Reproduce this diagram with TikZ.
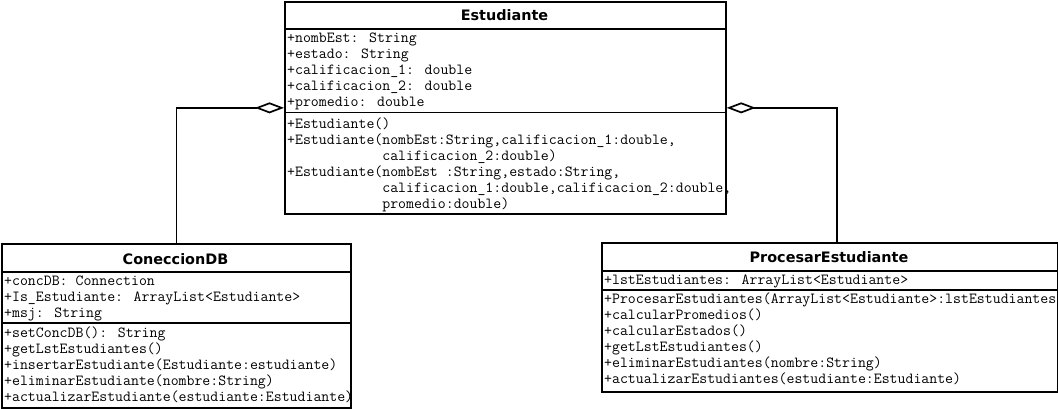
\documentclass[tikz,border=0pt]{standalone}
\usepackage{fontspec}
\newfontfamily\titlefont{DejaVu Sans}
\usetikzlibrary{arrows.meta}
\begin{document}
\begin{tikzpicture}[x=1bp,y=-1bp,
  box/.style={draw, line width=1.7bp, inner sep=0pt, anchor=north west},
  sep/.style={line width=1.7bp},
  title/.style={font=\titlefont\bfseries\fontsize{14.4bp}{16bp}\selectfont, inner sep=0pt},
  txt/.style={font=\ttfamily\fontsize{15.4bp}{16bp}\selectfont, inner sep=0pt, anchor=base west},
  aggr/.style={line width=1.7bp, -{Diamond[open,fill=white,length=29bp,width=11bp]}}
]
\useasboundingbox (0,0) rectangle (1058,408);

% class boxes
\node[box, minimum width=441bp, minimum height=212bp] (est) at (284,1) {};
\node[box, minimum width=349bp, minimum height=164bp] (con) at (1,243) {};
\node[box, minimum width=456bp, minimum height=149bp] (proc) at (601,242) {};

% separators
\draw[sep] (est.west |- 0,29) -- (est.east |- 0,29);
\draw[sep] (est.west |- 0,112.5) -- (est.east |- 0,112.5);
\draw[sep] (con.west |- 0,272) -- (con.east |- 0,272);
\draw[sep] (con.west |- 0,323) -- (con.east |- 0,323);
\draw[sep] (proc.west |- 0,271) -- (proc.east |- 0,271);
\draw[sep] (proc.west |- 0,290) -- (proc.east |- 0,290);

% titles
\node[title] (est-t) at (504.5,15.5) {Estudiante};
\node[title] (con-t) at (175.5,259) {ConeccionDB};
\node[title] (proc-t) at (829,257) {ProcesarEstudiante};

% Estudiante
\node[txt] (e1) at (287,42) {+nombEst: String};
\node[txt] (e2) at (287,58) {+estado: String};
\node[txt] (e3) at (287,74) {+calificacion\_1: double};
\node[txt] (e4) at (287,90) {+calificacion\_2: double};
\node[txt] (e5) at (287,106) {+promedio: double};
\node[txt] (e6) at (287,128) {+Estudiante()};
\node[txt] (e7) at (287,144) {+Estudiante(nombEst:String,calificacion\_1:double,};
\node[txt] (e8) at (287,160) {\phantom{+Estudiante(}calificacion\_2:double)};
\node[txt] (e9) at (287,176) {+Estudiante(nombEst :String,estado:String,};
\node[txt] (e10) at (287,192) {\phantom{+Estudiante(}calificacion\_1:double,calificacion\_2:double,};
\node[txt] (e11) at (287,208) {\phantom{+Estudiante(}promedio:double)};

% ConeccionDB
\node[txt] (c1) at (4,285) {+concDB: Connection};
\node[txt] (c2) at (4,301) {+Is\_Estudiante: ArrayList<Estudiante>};
\node[txt] (c3) at (4,317) {+msj: String};
\node[txt] (c4) at (4,337) {+setConcDB(): String};
\node[txt] (c5) at (4,353) {+getLstEstudiantes()};
\node[txt] (c6) at (4,369) {+insertarEstudiante(Estudiante:estudiante)};
\node[txt] (c7) at (4,385) {+eliminarEstudiante(nombre:String)};
\node[txt] (c8) at (4,401) {+actualizarEstudiante(estudiante:Estudiante)};

% ProcesarEstudiante
\node[txt] (p1) at (604,284) {+lstEstudiantes: ArrayList<Estudiante>};
\node[txt] (p2) at (604,303) {+ProcesarEstudiantes(ArrayList<Estudiante>:lstEstudiantes)};
\node[txt] (p3) at (604,319) {+calcularPromedios()};
\node[txt] (p4) at (604,335) {+calcularEstados()};
\node[txt] (p5) at (604,351) {+getLstEstudiantes()};
\node[txt] (p6) at (604,367) {+eliminarEstudiantes(nombre:String)};
\node[txt] (p7) at (604,383) {+actualizarEstudiantes(estudiante:Estudiante)};

% aggregations
\draw[aggr] (con.north) |- (est.west);
\draw[aggr] ([xshift=7bp]proc.north) |- (est.east);
\end{tikzpicture}
\end{document}
